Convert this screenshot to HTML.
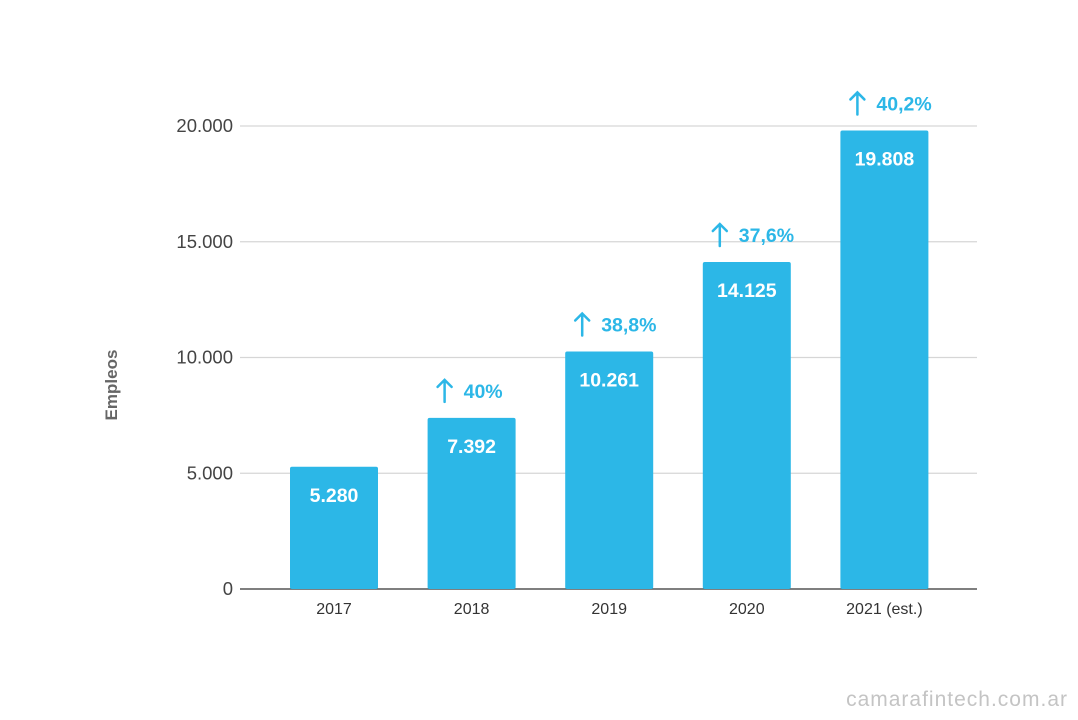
<!DOCTYPE html>
<html><head><meta charset="utf-8">
<style>
html,body{margin:0;padding:0;background:#fff;}
svg{display:block;font-family:"Liberation Sans",sans-serif;}
</style></head>
<body>
<svg id="chart" width="1078" height="720" viewBox="0 0 1078 720"></svg>
<script>
const categories = ["2017","2018","2019","2020","2021 (est.)"];
const values = [5280,7392,10261,14125,19808];
const valueLabels = ["5.280","7.392","10.261","14.125","19.808"];
const growthLabels = ["","40%","38,8%","37,6%","40,2%"];
const yTicks = [0,5000,10000,15000,20000];
const yTickLabels = ["0","5.000","10.000","15.000","20.000"];

const NS="http://www.w3.org/2000/svg";
const svg=document.getElementById('chart');
const y0=589, yTop=126, vMax=20000;
const yScale=v=>y0-(v/vMax)*(y0-yTop);
const plotL=240, plotR=977, firstCenter=334, step=137.6, barW=88;
const xScale=i=>firstCenter+i*step;
const BLUE="#2cb7e7";
function mk(tag,attrs,text){const e=document.createElementNS(NS,tag);for(const k in attrs)e.setAttribute(k,attrs[k]);if(text!==undefined)e.textContent=text;svg.appendChild(e);return e;}

yTicks.forEach((t,i)=>{
  const y=yScale(t);
  const g=mk('line',{x1:plotL,x2:plotR,y1:y,y2:y,stroke:t===0?"#555":"#d6d6d6","stroke-width":t===0?1.5:1.2});
  
  
  const l=mk('text',{x:233,y:y+6,"text-anchor":"end","font-size":18.5,fill:"#444"},yTickLabels[i]);
  
  
});

const yt=mk('text',{x:117,y:385,"text-anchor":"middle","font-size":17,"font-weight":"bold",fill:"#666",transform:"rotate(-90 117 385)"},"Empleos");



categories.forEach((c,i)=>{
  const cx=xScale(i), top=yScale(values[i]);
  const b=mk('rect',{x:cx-barW/2,y:top,width:barW,height:y0-top,fill:BLUE,rx:2});
  
  
  const v=mk('text',{x:cx,y:top+35,"text-anchor":"middle","font-size":19.5,"font-weight":"bold",fill:"#fff"},valueLabels[i]);
  
  
  const xl=mk('text',{x:cx,y:614,"text-anchor":"middle","font-size":16,fill:"#333"},c);
  
  
  if(growthLabels[i]){
    const ay=top-27;
    const ar=mk('path',{d:`M${cx-27} ${ay+11} L${cx-27} ${ay-11} M${cx-34} ${ay-4} L${cx-27} ${ay-11} L${cx-20} ${ay-4}`,stroke:BLUE,"stroke-width":2.5,fill:"none","stroke-linecap":"round"});
    
    
    const gl=mk('text',{x:cx-8,y:ay+7,"font-size":19.5,"font-weight":"bold",fill:BLUE},growthLabels[i]);
    
    
  }
});

const wm=mk('text',{x:1068,y:706,"text-anchor":"end","font-size":21,fill:"#c4c4c4","letter-spacing":"1"},"camarafintech.com.ar");


</script>
</body></html>
